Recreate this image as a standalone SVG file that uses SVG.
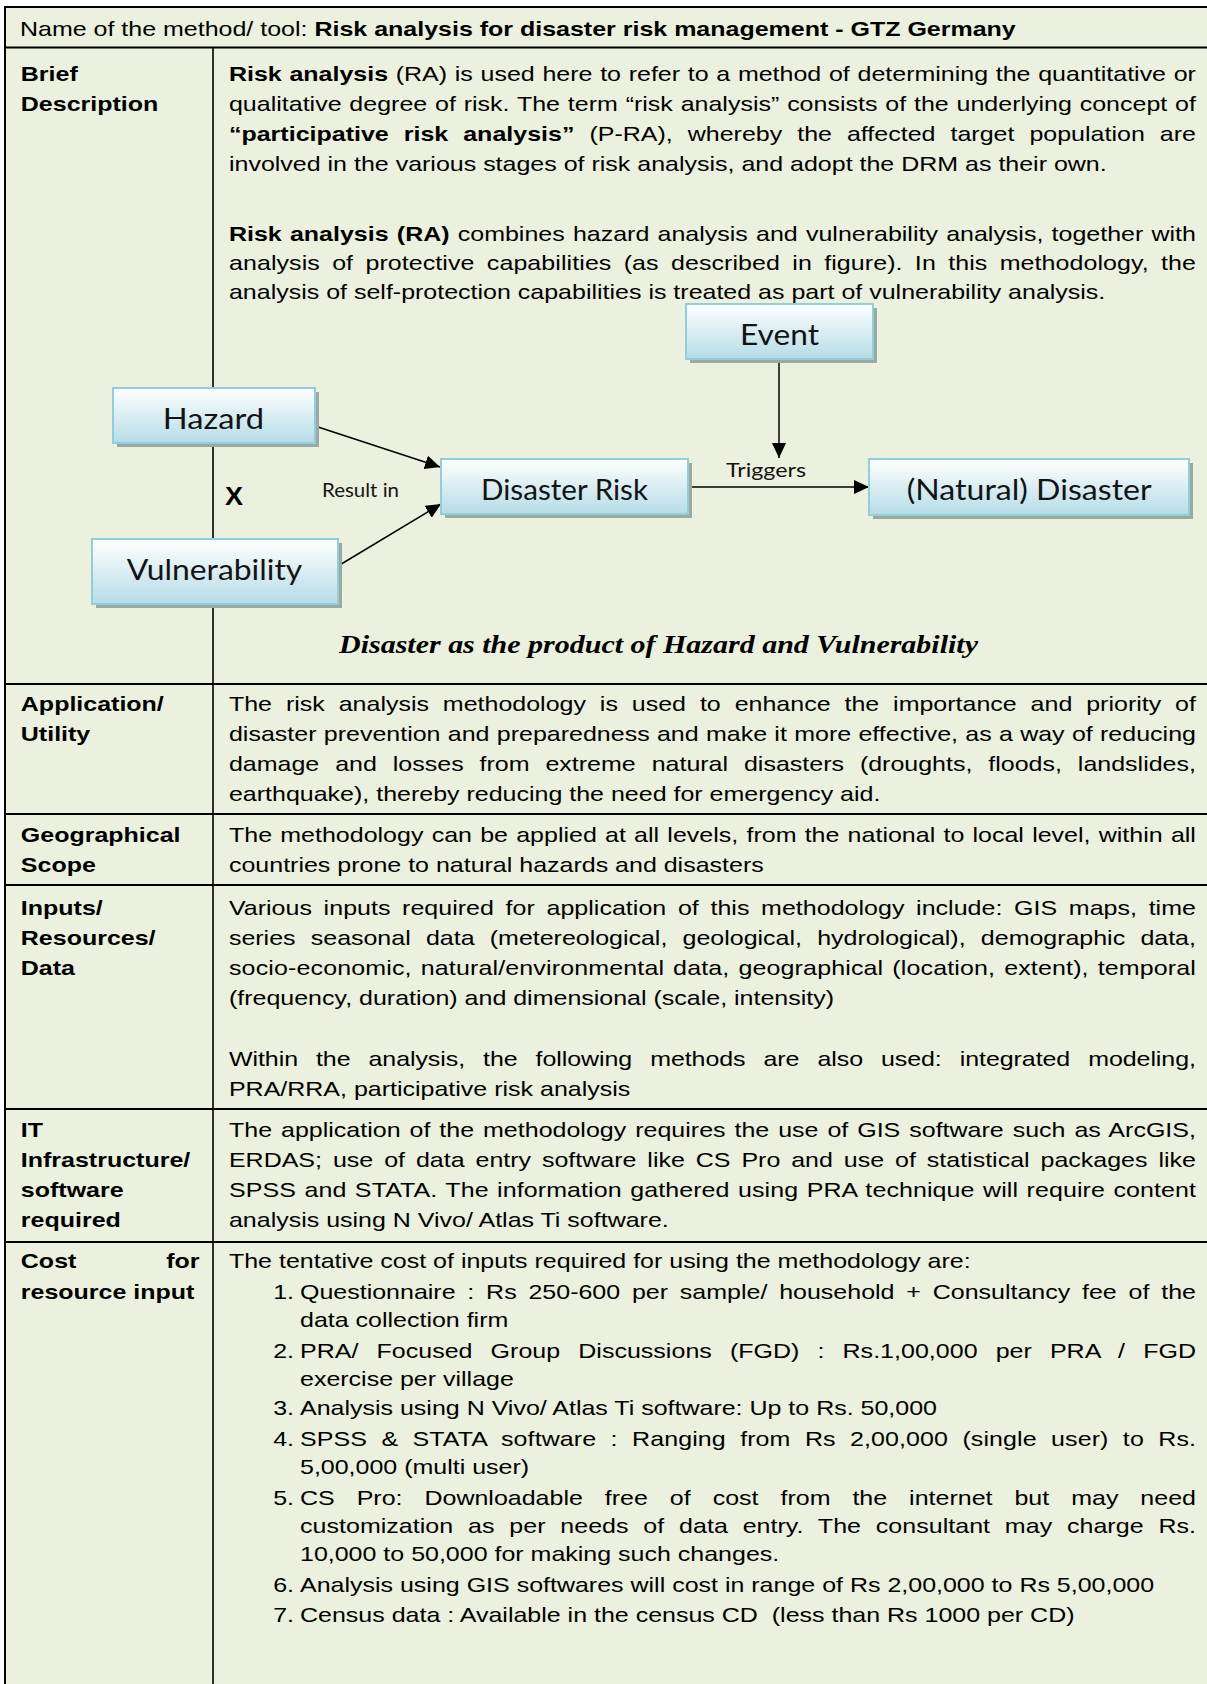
<svg xmlns="http://www.w3.org/2000/svg" width="1207" height="1684" viewBox="0 0 1207 1684">
<style>
.cell{fill:#ebf1de;stroke:#000;stroke-width:2}
.rule{stroke:#000;stroke-width:2}
.vdiv{stroke:#000;stroke-width:1.6}
.t{font-family:"Liberation Sans",Arial,sans-serif;font-size:21px;fill:#000}
.b{font-weight:bold}
.box{fill:url(#boxg);stroke:#92cddc;stroke-width:2}
.sh{fill:#98aaa2}
.nt{font-family:Lato,"Noto Sans",sans-serif;font-size:28px;fill:#141414}
.lb{font-family:Lato,"Noto Sans",sans-serif;font-size:20px;fill:#141414}
.conn{stroke:#000;stroke-width:1.5;fill:none;marker-end:url(#ah)}
.cap{font-family:"Liberation Serif","Times New Roman",serif;font-size:26px;font-weight:bold;font-style:italic;fill:#000}
</style>
<defs>
<linearGradient id="boxg" x1="0" y1="0" x2="0" y2="1">
<stop offset="0" stop-color="#ffffff"/>
<stop offset="1" stop-color="#b5dce7"/>
</linearGradient>
<marker id="ah" markerUnits="userSpaceOnUse" markerWidth="15" markerHeight="14" refX="15" refY="7" orient="auto">
<path d="M0,0 L15,7 L0,14 z" fill="#000"/>
</marker>
</defs>
<rect x="0" y="0" width="1207" height="1684" fill="#fff"/>
<g id="table">
<rect class="cell" x="5" y="7" width="1220" height="1700"/>
<line class="rule" x1="5" y1="47.5" x2="1207" y2="47.5"/>
<line class="rule" x1="5" y1="684" x2="1207" y2="684"/>
<line class="rule" x1="5" y1="814" x2="1207" y2="814"/>
<line class="rule" x1="5" y1="885" x2="1207" y2="885"/>
<line class="rule" x1="5" y1="1109" x2="1207" y2="1109"/>
<line class="rule" x1="5" y1="1242" x2="1207" y2="1242"/>
<line class="vdiv" x1="213" y1="47.5" x2="213" y2="1684"/>
</g>
<g id="table-text" class="t" transform="scale(1.19,1)">
<text x="16.8" y="36">Name of the method/ tool: <tspan class="b">Risk analysis for disaster risk management - GTZ Germany</tspan></text>
<g id="row-brief">
<text class="b" x="17.5" y="81">Brief</text>
<text class="b" x="17.5" y="111">Description</text>
<text x="192.4" y="81" word-spacing="0.64" textLength="812.6" lengthAdjust="spacing"><tspan class="b">Risk analysis</tspan> (RA) is used here to refer to a method of determining the quantitative or</text>
<text x="192.4" y="111" word-spacing="0.74" textLength="812.6" lengthAdjust="spacing">qualitative degree of risk. The term “risk analysis” consists of the underlying concept of</text>
<text x="192.4" y="141" word-spacing="6.77" textLength="812.6" lengthAdjust="spacing"><tspan class="b">“participative risk analysis”</tspan> (P-RA), whereby the affected target population are</text>
<text x="192.4" y="171">involved in the various stages of risk analysis, and adopt the DRM as their own.</text>
<text x="192.4" y="241" word-spacing="1.08" textLength="812.6" lengthAdjust="spacing"><tspan class="b">Risk analysis (RA)</tspan> combines hazard analysis and vulnerability analysis, together with</text>
<text x="192.4" y="270" word-spacing="4.42" textLength="812.6" lengthAdjust="spacing">analysis of protective capabilities (as described in figure). In this methodology, the</text>
<text x="192.4" y="299">analysis of self-protection capabilities is treated as part of vulnerability analysis.</text>
</g>
<g id="row-application">
<text class="b" x="17.5" y="711.5">Application/</text>
<text class="b" x="17.5" y="741.5">Utility</text>
<text x="192.4" y="711.5" word-spacing="5.86" textLength="812.6" lengthAdjust="spacing">The risk analysis methodology is used to enhance the importance and priority of</text>
<text x="192.4" y="741.5" word-spacing="0.29" textLength="812.6" lengthAdjust="spacing">disaster prevention and preparedness and make it more effective, as a way of reducing</text>
<text x="192.4" y="771.5" word-spacing="7.55" textLength="812.6" lengthAdjust="spacing">damage and losses from extreme natural disasters (droughts, floods, landslides,</text>
<text x="192.4" y="801.5">earthquake), thereby reducing the need for emergency aid.</text>
</g>
<g id="row-geo">
<text class="b" x="17.5" y="842.5">Geographical</text>
<text class="b" x="17.5" y="872.5">Scope</text>
<text x="192.4" y="842.5" word-spacing="1.06" textLength="812.6" lengthAdjust="spacing">The methodology can be applied at all levels, from the national to local level, within all</text>
<text x="192.4" y="872.5">countries prone to natural hazards and disasters</text>
</g>
<g id="row-inputs">
<text class="b" x="17.5" y="915.5">Inputs/</text>
<text class="b" x="17.5" y="945.5">Resources/</text>
<text class="b" x="17.5" y="975.5">Data</text>
<text x="192.4" y="915.5" word-spacing="3.95" textLength="812.6" lengthAdjust="spacing">Various inputs required for application of this methodology include: GIS maps, time</text>
<text x="192.4" y="945.5" word-spacing="7.02" textLength="812.6" lengthAdjust="spacing">series seasonal data (metereological, geological, hydrological), demographic data,</text>
<text x="192.4" y="975.5" word-spacing="1.6" textLength="812.6" lengthAdjust="spacing">socio-economic, natural/environmental data, geographical (location, extent), temporal</text>
<text x="192.4" y="1005.5">(frequency, duration) and dimensional (scale, intensity)</text>
<text x="192.4" y="1066" word-spacing="9.36" textLength="812.6" lengthAdjust="spacing">Within the analysis, the following methods are also used: integrated modeling,</text>
<text x="192.4" y="1096">PRA/RRA, participative risk analysis</text>
</g>
<g id="row-it">
<text class="b" x="17.5" y="1137">IT</text>
<text class="b" x="17.5" y="1167">Infrastructure/</text>
<text class="b" x="17.5" y="1197">software</text>
<text class="b" x="17.5" y="1227">required</text>
<text x="192.4" y="1137" word-spacing="1.63" textLength="812.6" lengthAdjust="spacing">The application of the methodology requires the use of GIS software such as ArcGIS,</text>
<text x="192.4" y="1167" word-spacing="3.35" textLength="812.6" lengthAdjust="spacing">ERDAS; use of data entry software like CS Pro and use of statistical packages like</text>
<text x="192.4" y="1197" word-spacing="1.19" textLength="812.6" lengthAdjust="spacing">SPSS and STATA. The information gathered using PRA technique will require content</text>
<text x="192.4" y="1227">analysis using N Vivo/ Atlas Ti software.</text>
</g>
<g id="row-cost">
<text class="b" x="17.5" y="1268">Cost</text>
<text class="b" x="167.6" y="1268" text-anchor="end">for</text>
<text class="b" x="17.5" y="1299">resource input</text>
<text x="192.4" y="1268">The tentative cost of inputs required for using the methodology are:</text>
<text x="229.6" y="1299">1.</text>
<text x="252.1" y="1299" word-spacing="4.09" textLength="752.9" lengthAdjust="spacing">Questionnaire : Rs 250-600 per sample/ household + Consultancy fee of the</text>
<text x="252.1" y="1327">data collection firm</text>
<text x="229.6" y="1358">2.</text>
<text x="252.1" y="1358" word-spacing="9.35" textLength="752.9" lengthAdjust="spacing">PRA/ Focused Group Discussions (FGD) : Rs.1,00,000 per PRA / FGD</text>
<text x="252.1" y="1386">exercise per village</text>
<text x="229.6" y="1415">3.</text>
<text x="252.1" y="1415">Analysis using N Vivo/ Atlas Ti software: Up to Rs. 50,000</text>
<text x="229.6" y="1446">4.</text>
<text x="252.1" y="1446" word-spacing="6.14" textLength="752.9" lengthAdjust="spacing">SPSS &amp; STATA software : Ranging from Rs 2,00,000 (single user) to Rs.</text>
<text x="252.1" y="1474">5,00,000 (multi user)</text>
<text x="229.6" y="1505">5.</text>
<text x="252.1" y="1505" word-spacing="12.62" textLength="752.9" lengthAdjust="spacing">CS Pro: Downloadable free of cost from the internet but may need</text>
<text x="252.1" y="1533" word-spacing="6.58" textLength="752.9" lengthAdjust="spacing">customization as per needs of data entry. The consultant may charge Rs.</text>
<text x="252.1" y="1561">10,000 to 50,000 for making such changes.</text>
<text x="229.6" y="1592">6.</text>
<text x="252.1" y="1592">Analysis using GIS softwares will cost in range of Rs 2,00,000 to Rs 5,00,000</text>
<text x="229.6" y="1622">7.</text>
<text x="252.1" y="1622" xml:space="preserve">Census data : Available in the census CD  (less than Rs 1000 per CD)</text>
</g>
</g>
<g id="connectors">
<line class="conn" x1="315" y1="426" x2="440" y2="467"/>
<line class="conn" x1="338" y1="566" x2="441" y2="504"/>
<line class="conn" x1="779" y1="359" x2="779" y2="458"/>
<line class="conn" x1="688" y1="487" x2="869" y2="487"/>
<text class="lb" x="322" y="497" textLength="77" lengthAdjust="spacingAndGlyphs">Result in</text>
<text class="lb" x="726" y="477" textLength="80" lengthAdjust="spacingAndGlyphs">Triggers</text>
<text x="225" y="505" font-family="Liberation Sans, Arial, sans-serif" font-size="26" font-weight="bold" textLength="18" lengthAdjust="spacingAndGlyphs">X</text>
</g>
<g id="node-event">
<rect class="sh" x="690" y="308" width="187" height="55"/>
<rect class="box" x="686" y="304" width="187" height="55"/>
<text class="nt" x="740" y="345" textLength="79" lengthAdjust="spacingAndGlyphs">Event</text>
</g>
<g id="node-hazard">
<rect class="sh" x="117" y="392" width="202" height="55"/>
<rect class="box" x="113" y="388" width="202" height="55"/>
<text class="nt" x="162.7" y="429" textLength="101.3" lengthAdjust="spacingAndGlyphs">Hazard</text>
</g>
<g id="node-vulnerability">
<rect class="sh" x="96" y="543" width="246" height="65"/>
<rect class="box" x="92" y="539" width="246" height="65"/>
<text class="nt" x="126.7" y="580" textLength="175.6" lengthAdjust="spacingAndGlyphs">Vulnerability</text>
</g>
<g id="node-disaster-risk">
<rect class="sh" x="445" y="463" width="247" height="55"/>
<rect class="box" x="441" y="459" width="247" height="55"/>
<text class="nt" x="481" y="500" textLength="167" lengthAdjust="spacingAndGlyphs">Disaster Risk</text>
</g>
<g id="node-natural-disaster">
<rect class="sh" x="873" y="463" width="320" height="56"/>
<rect class="box" x="869" y="459" width="320" height="56"/>
<text class="nt" x="906.7" y="500" textLength="245" lengthAdjust="spacingAndGlyphs">(Natural) Disaster</text>
</g>
<text class="cap" x="339" y="653" textLength="639" lengthAdjust="spacingAndGlyphs">Disaster as the product of Hazard and Vulnerability</text>
</svg>
